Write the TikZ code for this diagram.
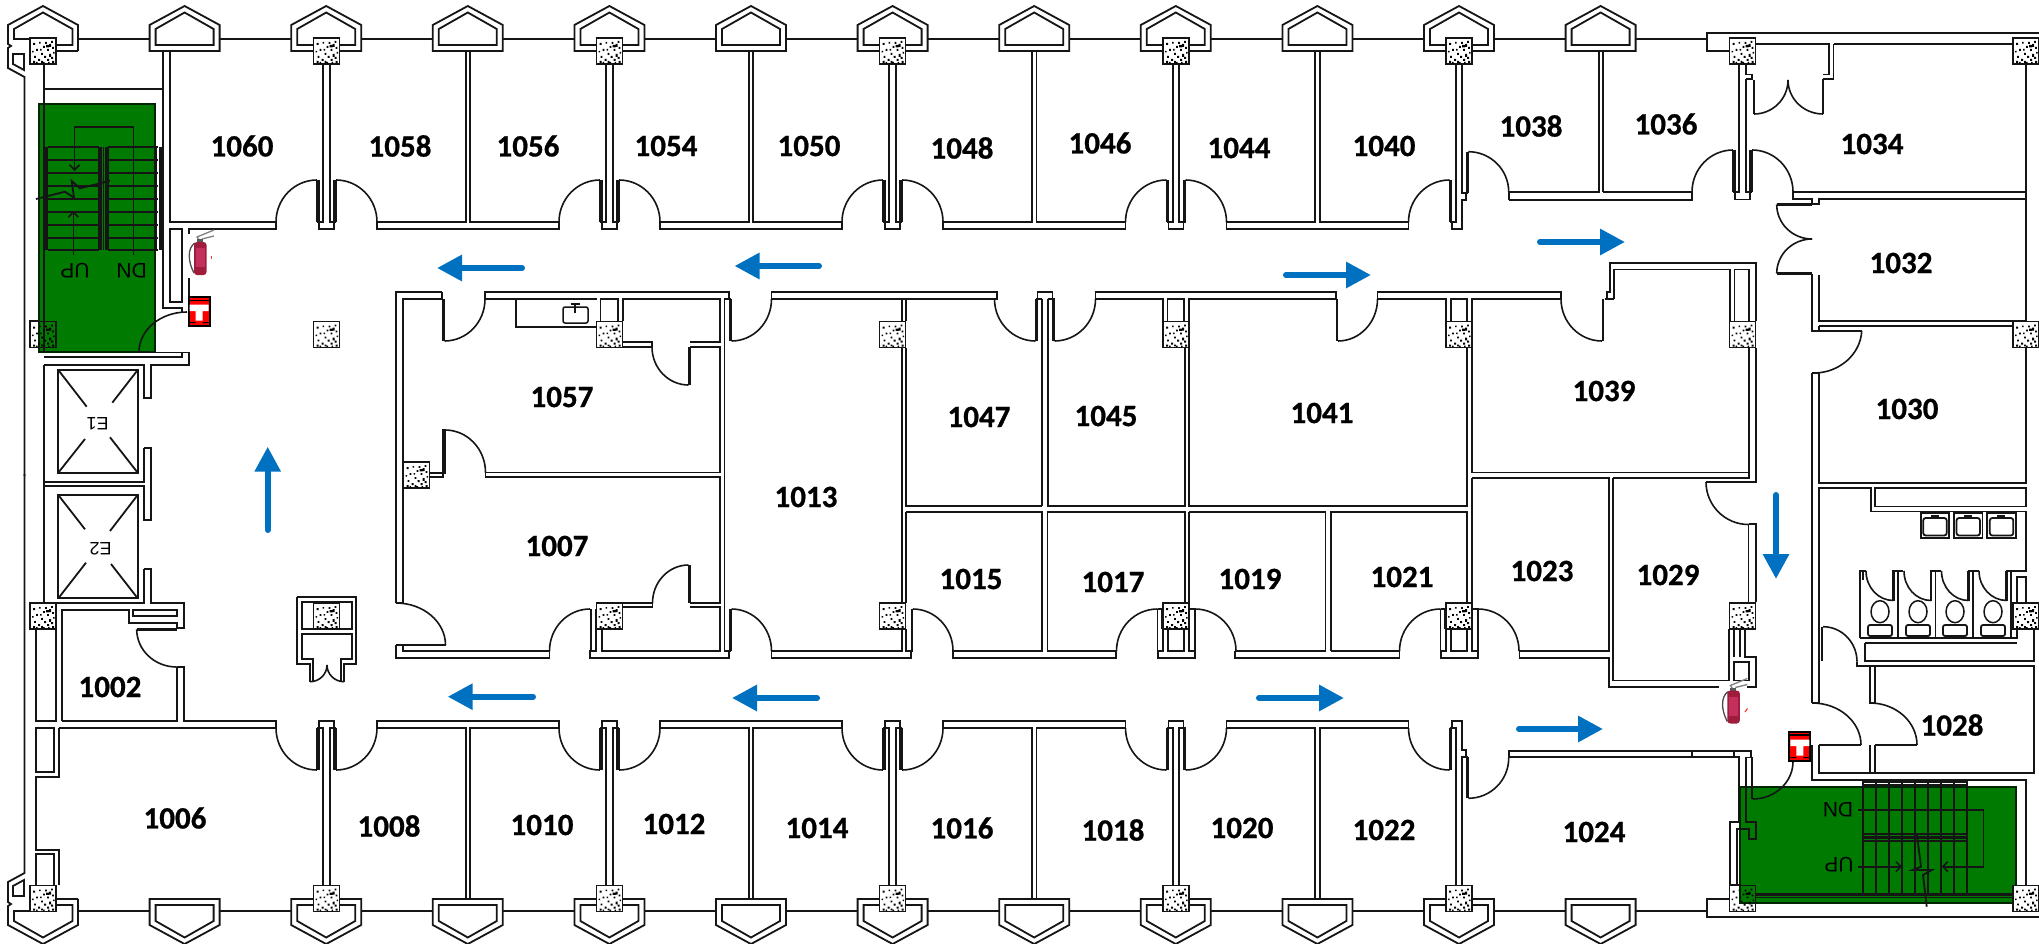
\documentclass[tikz,border=0pt]{standalone}
\usepackage{fontspec}
\setmainfont{Carlito}
\newfontfamily\roomfont[BoldFeatures={FakeBold=0.7}]{Carlito}
\newfontfamily\libsans{Liberation Sans}
\usetikzlibrary{arrows.meta}
\definecolor{stairgreen}{HTML}{007A00}
\definecolor{flowblue}{HTML}{0070C0}
\definecolor{linek}{HTML}{151515}
\definecolor{extdark}{HTML}{A01C3C}
\definecolor{extlight}{HTML}{C4305E}
\tikzset{
 wall/.style={draw=linek,line width=1.8pt,line join=miter},
 leaf/.style={draw=linek,line width=2.8pt},
 swing/.style={draw=linek,line width=1.6pt},
 thin/.style={draw=linek,line width=1.8pt},
 heavy/.style={draw=linek,line width=3.6pt},
 flow/.style={draw=flowblue,line width=6pt,line cap=round,-{Triangle[length=25pt,width=25pt,color=flowblue]}},
 barb/.style={draw=linek,line width=1.6pt,-{Straight Barb[length=5pt,width=10pt]}},
 roomlabel/.style={font=\roomfont\fontsize{31}{31}\selectfont\bfseries,text=black,inner sep=0pt},
 stairlabel/.style={font=\libsans\fontsize{21}{21}\selectfont,text=black,inner sep=0pt,rotate=180},
 mirrored/.style={yshift=-950pt,yscale=-1}
}
% quarter arc: x1 y1 x2 y2 cx cy
\newcommand\qa[6]{%
 \pgfmathsetmacro\qax{(#1)+0.5523*((#3)-(#5))}\pgfmathsetmacro\qay{(#2)+0.5523*((#4)-(#6))}%
 \pgfmathsetmacro\qbx{(#3)+0.5523*((#1)-(#5))}\pgfmathsetmacro\qby{(#4)+0.5523*((#2)-(#6))}%
 \draw[swing] (#1,#2) .. controls (\qax,\qay) and (\qbx,\qby) .. (#3,#4);}
\newcommand\speckdots{(-10,-8) rectangle +(2,2) (-7,-2) rectangle +(1.8,1.8) (-4,-9) rectangle +(1.6,1.6)
 (-9,5) rectangle +(1.8,1.8) (-5,8) rectangle +(2,2) (-2,2) rectangle +(1.8,1.8) (0,-5) rectangle +(1.8,1.8)
 (2,-9) rectangle +(1.8,1.8) (3,-6) rectangle +(3,2.4) (6,-7) rectangle +(2.2,3) (8,-10) rectangle +(1.8,1.8) (4,-2) rectangle +(1.8,1.8)
 (9,-4) rectangle +(1.8,1.8) (1,5) rectangle +(2,2) (4,8) rectangle +(2,2) (6,3) rectangle +(2,2.8) (8,6) rectangle +(2,2)
 (9,10) rectangle +(2,2) (-10,10) rectangle +(2,2) (-7,11) rectangle +(1.6,1.6) (-2,10) rectangle +(1.8,1.8) (10,1) rectangle +(1.6,1.6)
 (-3,-2) rectangle +(1.6,1.6) (-11,0) rectangle +(1.5,1.5) (0,11) rectangle +(1.5,1.5) (5,11) rectangle +(1.6,1.6)}
\newcommand\column[2]{\draw[wall,fill=white,shift={(#1,#2)}] (-13,-13) rectangle (13,13);
 \fill[black,shift={(#1,#2)}] \speckdots;}
\newcommand\columnover[2]{\draw[wall,shift={(#1,#2)}] (-13,-13) rectangle (13,13);
 \fill[black,shift={(#1,#2)}] \speckdots;}
\newcommand\bay[1]{\draw[wall,shift={(#1,0)}] (-35,51)--(-35,25)--(0,6)--(35,25)--(35,51)--cycle (-29,45)--(-29,29)--(0,12.5)--(29,29)--(29,45)--cycle;}
\newcommand\halfpair[6]{% c sign leafend room cap top
 \draw[wall] (#1+#2*3.2,#6)--(#1+#2*3.2,#4)--(#1+#2*9.5,#4);
 \draw[leaf] (#1+#2*9,#3)--(#1+#2*9,#4);
 \draw[wall] (#1+#2*7.5,#3)--(#1+#2*7.5,#4);
 \qa{#1+#2*9.5}{#3}{#1+#2*50.5}{#4}{#1+#2*9.5}{#4}}
\newcommand\pairdoor[5]{\halfpair{#1}{-1}{#2}{#3}{#4}{#5}\halfpair{#1}{1}{#2}{#3}{#4}{#5}
 \draw[wall] (#1-7.5,#3)--(#1-7.5,#4)--(#1+7.5,#4)--(#1+7.5,#3);}
\newcommand\corr[3]{\draw[wall] (#1,222)--(#1,229)--(#2,229)--(#2,222);
 \draw[wall] (#1,222)--(#3-2.2,222)--(#3-2.2,51);
 \draw[wall] (#3+2.2,51)--(#3+2.2,222)--(#2,222);}
\newcommand\sidewalls{%
 \foreach \c in {184.6,326.2,467.8,609.4,751,892.6,1034.2,1175.8,1317.4,1459,1600.6}{\bay{\c}}
 \foreach \c in {43,184.6,326.2,467.8,609.4,751,892.6,1034.2,1175.8,1317.4,1459}{\draw[wall] (\c+35,39)--(\c+106.6,39);}
 \draw[wall] (1635.6,39)--(1707,39);
 \draw[wall,line width=2.4pt] (2039,33)--(1707,33)--(1707,51)--(1729,51);
 \draw[wall] (78,51)--(78,25)--(43,6)--(8,25)--(8,44)--(11,46)--(8,48)--(8,68)--(24.5,77)--(24.5,476);
 \draw[wall] (78,51)--(56,51) (30,39)--(14,39)--(14,29)--(43,12.5)--(72.5,29)--(72.5,45)--(56,45);
 \draw[wall] (13,54)--(24,54)--(24,70)--(13,64)--cycle;
 \foreach \c in {326.5,609.5,892.5,1176}{\pairdoor{\c}{180}{222}{229}{64}}
 \halfpair{1459}{-1}{180}{222}{229}{64}
 \draw[wall] (1452,222)--(1452,229)--(1462,229)--(1462,199.7)--(1465.7,199.7)--(1465.7,192.7);
 \draw[wall] (1462,64)--(1462,192.7)--(1468.3,192.7);
 \draw[leaf] (1467.5,151.7)--(1467.5,192.7);
 \qa{1468.3}{151.7}{1508.7}{192}{1468.3}{192}
 \corr{377}{559}{467.8}
 \corr{660}{842}{751}
 \corr{943}{1125.5}{1034.2}
 \corr{1226.5}{1408.5}{1317.4}
 \draw[wall] (1508.7,192)--(1508.7,199.7);
}
\newcommand\extinguisher[2]{\begin{scope}[shift={(#1,#2)}]
 \fill[white] (-8,-8) rectangle (20,36);
 \draw[gray,line width=1.3pt] (6,-1)--(3,-5)--(20,-12) (8,-3)--(20,-6);
 \fill[gray!70!black] (3,-3) rectangle (9,3);
 \draw[black!70,line width=1.3pt] (1,1) .. controls (-7,6) and (-6,20) .. (0,31);
 \fill[extdark,rounded corners=3pt] (0,0) rectangle (12.5,33);
 \fill[extlight] (1.5,6) rectangle (11,25);
 \end{scope}}
\newcommand\alarmbox[2]{\begin{scope}[shift={(#1,#2)}]
 \fill[black] (0,0) rectangle (23,31.5);
 \fill[red] (2,2) rectangle (21,29.5);
 \draw[black,line width=1.2pt] (2,4.5)--(21,4.5);
 \fill[white] (2,9) rectangle (21,15.5) (8,15.5) rectangle (15,25);
 \fill[black] (2,26.5) rectangle (8,27.5) (15,26.5) rectangle (21,27.5);
 \end{scope}}
\begin{document}
\begin{tikzpicture}[x=1pt,y=-1pt]
\useasboundingbox (0,0) rectangle (2039,944);
\fill[white] (0,0) rectangle (2039,944);
\draw[wall,fill=white] (30,321) rectangle (56,347.5);
\draw[wall,fill=white] (1729.5,885) rectangle (1755.5,911.5);
\draw[fill=stairgreen,draw=black!70!stairgreen,line width=2pt] (39,104) rectangle (155,352);
\draw[fill=stairgreen,draw=black!70!stairgreen,line width=2pt] (1740,786.5) rectangle (2016,903);
\sidewalls
\begin{scope}[mirrored]\sidewalls\end{scope}
% top-left room 1060 and stair enclosure
\draw[wall] (170,51)--(170,222)--(276,222)--(276,229)--(189,229)--(189,296);
\draw[wall] (163,51)--(163,308)--(182,308)--(182,312);
\draw[wall] (170,229)--(182,229)--(182,302)--(170,302)--cycle;
\draw[wall,line width=2.4pt] (44.3,89)--(163,89);
\draw[wall] (44.3,64)--(44.3,352) (44.3,365)--(44.3,602.5);
\draw[wall] (44.3,357)--(182,357)--(182,352.5);
\draw[wall] (139,352.5)--(189,352.5)--(189,365)--(150.7,365)--(150.7,398)--(144,398)--(144,365)--(44.3,365);
\qa{139}{352}{187}{312}{187}{352}
% left stairs
\draw[heavy] (46.5,146.7)--(46.5,250);
\draw[heavy] (100,146.7)--(100,250) (107,146.7)--(107,250);
\draw[thin] (103.5,146.7)--(103.5,250) (156,146.7)--(156,250);
\draw[heavy] (160.5,146.7)--(160.5,250);
\foreach \y in {146.7,159.7,172.7,185.7,198.7,211.7,224.7,237.7,250}{\draw[thin] (48,\y)--(99,\y) (108,\y)--(158,\y);}
\draw[barb] (133.3,255)--(133.3,127)--(74.5,127)--(74.5,171);
\draw[barb] (73.3,255)--(73.3,211);
\draw[thin] (36,199)--(65,191.7)--(74,197.7)--(71.7,181)--(80,188.3)--(110,180.7);
\node[stairlabel] (upL) at (75,271) {UP};
\node[stairlabel] (dnL) at (131.7,271) {DN};
% elevators
\draw[wall] (58.3,370) rectangle (137.7,472.7);
\draw[thin] (58.3,370)--(86.7,406.7) (137.7,370)--(112.3,402.7) (58.3,472.7)--(85,439) (137.7,472.7)--(110,437.3);
\node[stairlabel,font=\libsans\fontsize{18}{18}\selectfont] (e1) at (97.7,424) {E1};
\draw[wall] (58.3,495) rectangle (137.7,598.3);
\draw[thin] (58.3,495)--(85,529.3) (137.7,495)--(110,531) (58.3,598.3)--(86,562.7) (137.7,598.3)--(111,564);
\node[stairlabel,font=\libsans\fontsize{18}{18}\selectfont] (e2) at (100.7,548.7) {E2};
\draw[wall] (144,448)--(150.7,448)--(150.7,519.7)--(144,519.7)--(144,486)--(44.3,486);
\draw[wall] (144,448)--(144,481.7)--(44.3,481.7);
\draw[wall] (144,569.3)--(150.7,569.3)--(150.7,602.7)--(183.7,602.7)--(183.7,627.7)--(176.7,627.7);
\draw[wall] (144,569.3)--(144,602.7)--(56,602.7);
% room 1002
\draw[wall] (61.7,721)--(61.7,610)--(129,610)--(129,623)--(176.7,623)--(176.7,629.3);
\draw[leaf] (136.7,629.3)--(176.7,629.3);
\draw[wall] (133.3,610)--(176.7,610)--(176.7,616)--(133.3,616)--cycle;
\qa{136.7}{629.3}{176.7}{667}{176.7}{629.3}
\draw[wall] (176.7,667)--(183.7,667)--(183.7,721)--(276,721)--(276,728)--(59,728);
\draw[wall] (176.7,667)--(176.7,721)--(61.7,721);
\draw[wall] (36,629)--(36,721)--(56,721)--(56,629);
\draw[wall] (36,728)--(54,728)--(54,771.7)--(36,771.7)--cycle;
\draw[wall] (59,728)--(59,776.7)--(36,776.7)--(36,849.7)--(59,849.7)--(59,885);
\draw[wall] (54,885)--(54,854)--(36,854)--(36,885);
% lobby shaft
\draw[wall] (296.7,597.3)--(356,597.3)--(356,663.7)--(344,663.7)--(344,681.7);
\draw[wall] (296.7,597.3)--(296.7,663.7)--(310,663.7)--(310,681.7);
\draw[wall] (301.7,602.3) rectangle (351.7,628.7);
\draw[wall] (341,681.7)--(341,659)--(351.7,659)--(351.7,633.7)--(301.7,633.7)--(301.7,659)--(313,659)--(313,681.7);
\qa{344}{681.7}{327}{665}{344}{665}
\qa{310}{681.7}{327}{665}{310}{665}
% inner block
\draw[wall] (485,299)--(485,292)--(729,292)--(729,299);
\draw[wall] (442,292)--(396,292)--(396,603);
\draw[wall] (403,603)--(403,299)--(442.5,299);
\draw[leaf] (443.5,299)--(443.5,341);
\qa{444.5}{341}{485}{299}{444.5}{299}
\draw[wall] (442,292)--(442,299);
\draw[wall] (485,299)--(597,299);
\draw[wall] (516,299)--(516,327)--(597,327);
\draw[wall,line width=1.5pt,rounded corners=2pt] (563,307) rectangle (588,323);
\draw[wall,line width=2.4pt] (570.5,304)--(579.5,304) (575,303)--(575,313);
\draw[wall] (600.5,321)--(600.5,299)--(618,299)--(618,321);
\draw[wall] (622.6,321)--(622.6,299)--(720,299)--(720,342)--(690,342);
\draw[wall] (622,342)--(652,342)--(652,347)--(622,347);
\draw[leaf] (689.5,347)--(689.5,385);
\qa{652}{347}{688.5}{385}{688.5}{347}
\draw[wall] (690,347)--(720,347)--(720,472.5)--(485.5,472.5)--(485.5,477)--(720,477)--(720,603)--(690,603);
\draw[leaf] (689.5,565)--(689.5,603);
\qa{652.5}{603}{688.5}{565}{688.5}{603}
\draw[wall] (622,603)--(652.5,603)--(652.5,607)--(622,607);
\draw[wall] (690,607)--(720,607)--(720,651)--(602,651)--(602,629);
\draw[wall] (430,472.6)--(445,472.6)--(445,430)--(443,430)--(443,477.3)--(430,477.3);
\draw[leaf] (444,430)--(444,474);
\qa{445}{430}{485.5}{472.5}{445}{472.5}
\qa{396}{603}{445.5}{645}{396}{645}
\draw[leaf] (396,645)--(445.5,645);
\draw[wall] (403,645)--(403,651)--(549.5,651)--(549.5,658)--(396,658)--(396,645);
\draw[wall] (396,603)--(403,603);
\qa{549.5}{651}{590}{609}{590}{651}
\draw[leaf] (591,609)--(591,651);
\draw[wall] (596,609)--(596,651)--(590,651)--(590,658)--(729,658)--(729,651);
\draw[wall] (724.4,299)--(724.4,651);
\draw[leaf] (730.5,299)--(730.5,341);
\draw[leaf] (730.5,609)--(730.5,651);
\draw[wall] (724.4,299)--(731,299) (724.4,651)--(731,651);
\qa{731.5}{341}{771.5}{299}{731.5}{299}
\qa{731.5}{609}{771.5}{651}{731.5}{651}
% 1013
\draw[wall] (771.5,299)--(771.5,292)--(997,292)--(997,299)--(771.5,299);
\draw[wall] (771.5,651)--(771.5,658)--(911,658)--(911,651);
\draw[wall] (771.5,651)--(901.6,651)--(901.6,629);
\draw[wall] (901.6,321)--(901.6,299);
\draw[wall] (901.6,348)--(901.6,629);
\draw[wall] (905.8,299)--(905.8,321) (905.8,348)--(905.8,506)--(1041.8,506);
\draw[wall] (905.8,299)--(997,299);
\draw[wall] (905.8,511.7)--(1041.8,511.7)--(1041.8,651)--(953,651)--(953,658)--(1116,658)--(1116,651)--(1047.5,651)--(1047.5,511.7)--(1184.7,511.7)--(1184.7,603);
\draw[wall] (905.8,511.7)--(905.8,603);
\draw[wall] (905.8,629)--(905.8,651)--(912.8,651);
\draw[leaf] (912,609)--(912,651);
\qa{912.8}{609}{953}{651}{912.8}{651}
% 1047 / 1045 top door pair
\pairdoor{1045}{341}{299}{292}{299}
\draw[wall] (1041.8,299)--(1041.8,506) (1048.2,299)--(1048.2,506)--(1184.7,506)--(1184.7,348);
\draw[wall] (1095.5,299)--(1095.5,292)--(1336,292)--(1336,299);
\draw[wall] (1095.5,299)--(1163,299)--(1163,321);
\draw[wall] (1167.5,321)--(1167.5,299)--(1184,299)--(1184,321);
\draw[wall] (1188.8,321)--(1188.8,299)--(1336,299);
\draw[wall] (1188.8,348)--(1188.8,506)--(1467,506)--(1467,348);
\draw[wall] (1188.8,511.7)--(1325.5,511.7)--(1325.5,651);
\draw[wall] (1188.8,511.7)--(1188.8,603);
\draw[wall] (1330.6,651)--(1330.6,511.7)--(1467,511.7)--(1467,603);
\draw[leaf] (1337,299)--(1337,341);
\qa{1338}{341}{1377.5}{299}{1338}{299}
\draw[wall] (1377.5,299)--(1377.5,292)--(1561,292)--(1561,299);
\draw[wall] (1377.5,299)--(1446,299)--(1446,321);
\draw[wall] (1451,321)--(1451,299)--(1467,299)--(1467,321);
\draw[wall] (1472,321)--(1472,299)--(1561,299);
\draw[wall] (1472,348)--(1472,472.5)--(1748.7,472.5)--(1748.7,348);
\draw[wall] (1472,477.7)--(1472,603);
\draw[wall] (1472,477.7)--(1608.7,477.7)--(1608.7,651)--(1519.5,651)--(1519.5,658)--(1609,658)--(1609,687)--(1755.7,687)--(1755.7,656.7)--(1745,656.7)--(1745,629);
\draw[wall] (1613.3,477.7)--(1613.3,680.5)--(1729.3,680.5)--(1729.3,629);
\draw[wall] (1734,629)--(1734,656.7) (1740,629)--(1740,656.7);
\draw[wall] (1734,661.7)--(1748.7,661.7)--(1748.7,680.5)--(1734,680.5)--cycle;
\draw[wall] (1613.3,477.7)--(1748.7,477.7)--(1748.7,472.5);
\foreach \c in {1176,1459}{
 \draw[wall] (\c-18.5,609)--(\c-18.5,651)--(\c-13,651)--(\c-13,629);
 \draw[wall] (\c+13,629)--(\c+13,651)--(\c+19,651)--(\c+19,609);
 \draw[wall] (\c-8,629)--(\c-8,651)--(\c+8,651)--(\c+8,629);
 \draw[wall] (\c-18,651)--(\c-18,658)--(\c+19,658)--(\c+19,651);
 \draw[wall] (\c-18.5,609)--(\c-14,609)--(\c-14,629);
 \draw[wall] (\c+13,609)--(\c+19,609);
 \qa{\c-18.5}{609}{\c-59.5}{651}{\c-18.5}{651}
 \qa{\c+19}{609}{\c+60}{651}{\c+19}{651}
}
\draw[wall] (1235,651)--(1235,658)--(1399.5,658)--(1399.5,651)--(1330.6,651);
\draw[wall] (1235,651)--(1325.5,651);
% 1039 bump
\qa{1561}{299}{1602}{341}{1602}{299}
\draw[leaf] (1603,299)--(1603,341);
\draw[wall] (1604.6,299)--(1607,299)--(1607,292)--(1610,292)--(1610,263)--(1755.7,263)--(1755.7,321);
\draw[wall] (1614,299)--(1614,269.5)--(1729.7,269.5)--(1729.7,321);
\draw[wall] (1734.5,321)--(1734.5,269.5)--(1748.7,269.5)--(1748.7,321);
\draw[wall] (1614,299)--(1604.6,299);
\draw[wall] (1755.7,348)--(1755.7,481.7)--(1748.7,481.7);
\draw[leaf] (1706,482)--(1748.7,482);
\qa{1706}{482}{1748.5}{524.5}{1748.5}{482}
\draw[wall] (1748.5,524)--(1755.7,524)--(1755.7,602);
\draw[wall] (1748.5,524)--(1748.5,602);
% top right rooms
\draw[wall] (1508.7,199.7)--(1691.7,199.7)--(1691.7,192)--(1603,192);
\draw[wall] (1508.7,192)--(1598.7,192)--(1598.7,51) (1603,51)--(1603,192);
\pairdoor{1742.5}{150}{192}{199.5}{79}
\draw[wall] (1739.3,64)--(1739.3,79) (1745.7,64)--(1745.7,74.5)--(1752,74.5)--(1752,79)--(1745.7,79);
\draw[wall] (1756,44.3)--(1829,44.3)--(1829,74.5)--(1823,74.5);
\draw[wall] (1833.5,44.3)--(2013,44.3);
\draw[wall] (1833.5,44.3)--(1833.5,79)--(1823,79);
\draw[leaf] (1823,79)--(1823,114) (1754,80)--(1754,114);
\qa{1754}{114}{1788}{80}{1754}{80}
\qa{1823}{114}{1788}{80}{1823}{80}
\draw[wall] (2025.7,64)--(2025.7,321)--(1819,321)--(1819,274.5);
\draw[wall] (1793,192)--(2025.7,192);
\draw[wall] (1793,192)--(1793,199)--(1812,199)--(1812,204)--(1819,204)--(1819,199)--(2025.7,199);
\draw[leaf] (1776.7,204.5)--(1812,204.5) (1776.7,273.5)--(1812.3,273.5);
\qa{1776.7}{204.5}{1812}{239}{1812}{204.5}
\qa{1776.7}{273.5}{1812}{239}{1812}{273.5}
\draw[wall] (1812.3,273.5)--(1812.3,330.7)--(1819,330.7);
\draw[wall] (1819,326.3)--(2013,326.3);
\draw[wall] (1819,326.3)--(1819,330.7);
\draw[leaf] (1818,331)--(1861.7,331);
\qa{1861.7}{331}{1814}{373}{1816}{331}
\draw[wall] (1812.3,373)--(1819,373);
\draw[wall] (1819,373)--(1819,482.7)--(2025.7,482.7)--(2025.7,348);
\draw[wall] (1812.3,373)--(1812.3,703);
% washroom
\draw[wall] (1819,661)--(1819,487.7)--(1870.7,487.7)--(1870.7,511.5)--(2025.7,511.5)--(2025.7,570.7)--(2006.7,570.7);
\draw[wall] (1875,488)--(2025.7,488)--(2025.7,506.5)--(1875,506.5)--cycle;
\draw[wall] (2017,602)--(2017,576.7)--(2025.7,576.7)--(2025.7,602);
\foreach \x in {1920.7,1954,1987.3}{
 \draw[wall] (\x,513.3) rectangle (\x+28.5,537.7);
 \draw[wall,rounded corners=2.5pt] (\x+2.5,518) rectangle (\x+26,535.5);
 \draw[wall,line width=2.6pt] (\x+10,516)--(\x+18,516);
}
\draw[wall] (1860,638.3)--(1860,571)--(1866,571);
\qa{1866}{571}{1893.3}{600.5}{1893.3}{571}
\qa{1904}{571}{1931}{600.5}{1931}{571}
\qa{1941.5}{571}{1968.5}{600.5}{1968.5}{571}
\qa{1979}{571}{2006.7}{600.5}{2006.7}{571}
\foreach \x in {1893.3,1931,1968.5,2006.7}{
 \draw[leaf] (\x,571)--(\x,600.5);
 \draw[wall] (\x+4.5,571)--(\x+4.5,638.3);
 \draw[wall] (\x-1,571)--(\x+10,571);
}
\draw[wall] (1863,571)--(1863,580);
\foreach \x in {1880,1918,1955,1993}{
 \draw[wall,line width=1.5pt] (\x,611.7) ellipse [x radius=9,y radius=11];
 \draw[wall,rounded corners=2pt] (\x-12,636) rectangle (\x+12,625);
}
\draw[wall] (1860,638.3)--(2016.7,638.3)--(2016.7,629);
\draw[wall] (1865,642.7)--(2016.7,642.7);
\draw[wall] (1865,642.7)--(1865,661)--(2034.3,661)--(2034.3,629);
\draw[wall] (1857,661.7)--(1857,666)--(2034.3,666)--(2034.3,772.7)--(1875,772.7)--(1875,745);
\draw[leaf] (1822,626.7)--(1822,661);
\qa{1823}{626.7}{1857}{661.7}{1823}{661.7}
\draw[wall] (1819,661)--(1819,703);
\draw[wall] (1870,666)--(1870,703)--(1875,703)--(1875,666);
\qa{1870}{703}{1917}{745}{1870}{745}
\draw[leaf] (1875,745)--(1917,745) (1819,745)--(1861,745);
\qa{1812.3}{703}{1861}{745}{1812.3}{745}
\draw[wall] (1812.3,703)--(1819,703) (1819,745)--(1819,772.7)--(1875,772.7);
\draw[wall] (1870,745)--(1870,772.7);
\draw[wall] (1812.3,745)--(1812.3,780)--(2025.7,780)--(2025.7,885);
% room 1024 walls
\draw[wall] (1508.7,750.7)--(1750.7,750.7)--(1750.7,757.5)--(1746,757.5)--(1746,822)--(1755.7,822)--(1755.7,839)--(1749,839)--(1749,829)--(1736.7,829)--(1736.7,885);
\draw[wall] (1508.7,750.7)--(1508.7,757.3)--(1739,757.3)--(1739,821.7)--(1730,821.7)--(1730,885);
\draw[wall] (1691.7,750.7)--(1691.7,757.3) (1733.7,750.7)--(1733.7,757.3);
\draw[wall] (1746,757.5)--(1752.7,757.5);
\draw[leaf] (1752,758)--(1752,799);
\qa{1752.7}{799}{1793}{761.5}{1752.7}{761.5}
\draw[wall] (1755,897.5)--(2013,897.5);
\draw[wall,line width=2.4pt] (1755,894.5)--(2013,894.5);
% right stairs
\foreach \x in {1862.7,1875.8,1888.9,1902,1915,1928.1,1941.2,1954.3,1967.3}{\draw[thin] (\x,780.7)--(\x,896);}
\draw[thin] (1862.7,782)--(1967.3,782) (1862.7,785)--(1967.3,785) (1862.7,834)--(1967.3,834);
\draw[wall,line width=2.4pt] (1862.7,837.5)--(1967.3,837.5) (1862.7,841)--(1967.3,841);
\draw[barb] (1858,810)--(1983.3,810)--(1983.3,866.7)--(1941.7,866.7);
\draw[barb] (1858,866.7)--(1902,866.7);
\draw[thin] (1916.7,833)--(1921,866.7)--(1912.7,870)--(1931.7,870)--(1923,875)--(1926.7,906.7);
\node[stairlabel] (dnR) at (1838,809.5) {DN};
\node[stairlabel] (upR) at (1839,865) {UP};
% columns
\foreach \x in {43,326.5,609.5,892.5,1176,1459,1742.5,2026}{\column{\x}{51}}
\foreach \x in {326.5,609.5,892.5,1176,1459,1742.5,2026}{\column{\x}{334.5}}
\foreach \x in {43,326.5,609.5,892.5,1176,1459,1742.5,2026}{\column{\x}{616}}
\foreach \x in {43,326.5,609.5,892.5,1176,1459,2026}{\column{\x}{898.5}}
\column{416.5}{475}
\columnover{43}{334.5}
\columnover{1742.5}{898.5}
% fire extinguishers and alarm panels
\extinguisher{194}{242}
\extinguisher{1727.3}{690.5}
\fill[red!80] (211,256) rectangle (212,259);
\draw[red!80,line width=1.2pt] (1745,712)--(1747.5,708.5);
\alarmbox{187.5}{295.7}
\alarmbox{1788.3}{730.5}
% flow arrows
\draw[flow] (522,268)--(437,268);
\draw[flow] (819,266)--(734.5,266);
\draw[flow] (1286,275)--(1371,275);
\draw[flow] (1540,242)--(1625,242);
\draw[flow] (267.7,530)--(267.7,446.7);
\draw[flow] (1776,495)--(1776,579);
\draw[flow] (533,696.7)--(447.7,696.7);
\draw[flow] (817,698)--(732,698);
\draw[flow] (1259,698)--(1344,698);
\draw[flow] (1519,729)--(1603,729);
% room labels
\foreach \n/\x/\y in {1060/242/146,1058/400/146,1056/528/146,1054/666/146,1050/809/146,1048/962/148,1046/1100/143,1044/1239/148,1040/1384/146,1038/1531/126,1036/1666/124,1034/1872/144,1032/1901/263,1030/1907/409,1057/562/397,1007/557/546,1013/806/497,1047/979/417,1045/1106/416,1041/1322/413,1039/1604/391,1015/971/579,1017/1113/582,1019/1250/579,1021/1402/577,1023/1542/571,1029/1668/575,1028/1952/725,1024/1594/832,1022/1384/830,1020/1242/828,1018/1113/830,1016/962/828,1014/817/828,1012/674/824,1010/542/825,1008/389/826,1006/175/818,1002/110/687}{
 \node[roomlabel] (r\n) at (\x,\y) {\n};
}
\end{tikzpicture}
\end{document}
